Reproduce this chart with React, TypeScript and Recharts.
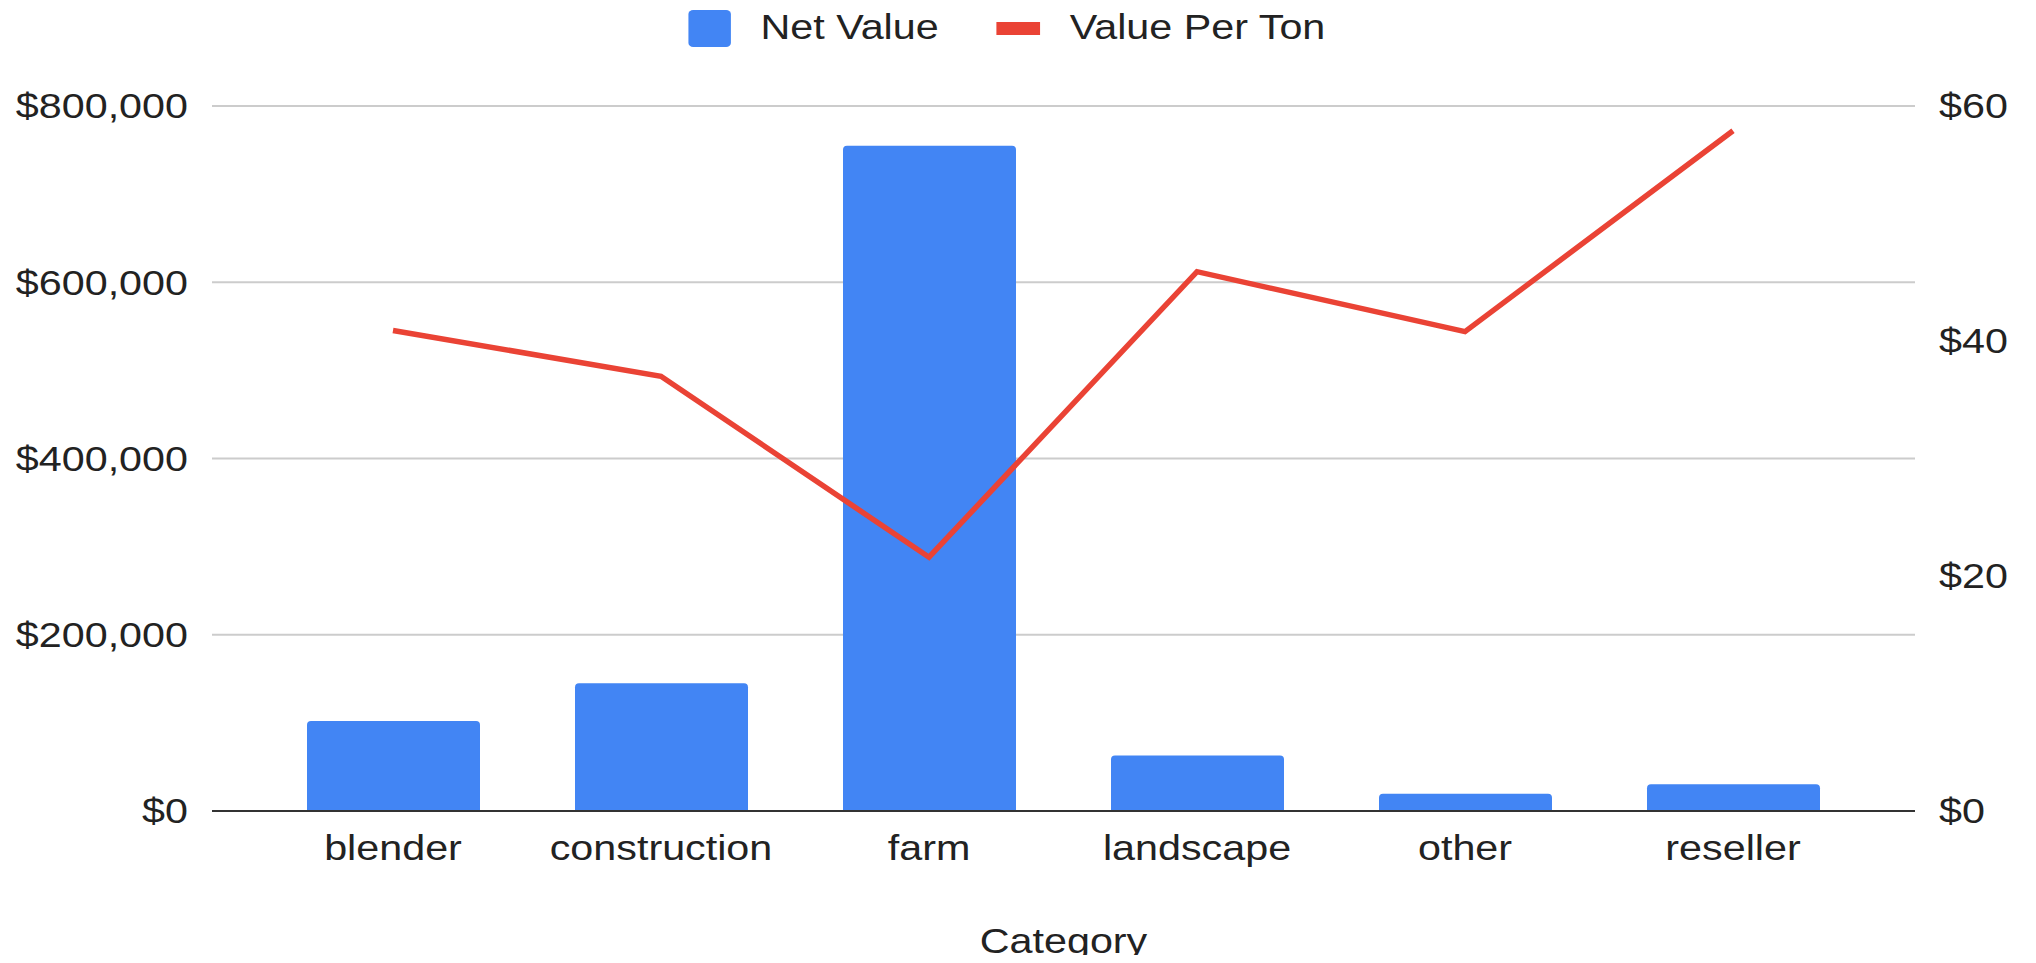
import React from "react";
import {
  ComposedChart,
  Bar,
  Line,
  XAxis,
  YAxis,
  CartesianGrid,
  Legend,
} from "recharts";

const categories: string[] = [
  "blender",
  "construction",
  "farm",
  "landscape",
  "other",
  "reseller",
];
const netValue: number[] = [102000, 145000, 755000, 63000, 19700, 30300];
const valuePerTon: number[] = [40.9, 37.0, 21.6, 45.9, 40.8, 57.9];

const leftTicks: number[] = [0, 200000, 400000, 600000, 800000];
const rightTicks: number[] = [0, 20, 40, 60];

const data = categories.map((category, i) => ({
  category,
  netValue: netValue[i],
  valuePerTon: valuePerTon[i],
}));

const FONT = "'Liberation Sans', Arial, sans-serif";
const TEXT = "#222222";
const BLUE = "#4285f4";
const RED = "#ea4335";
// the reference is stretched sideways, so text is widened to match
const STRETCH = 1.18;

const money = (v: number) => "$" + v.toLocaleString("en-US");

const StretchTick = (props: any) => {
  const { x, y, payload, anchor, dy, fmt } = props;
  return (
    <g transform={`translate(${x},${y}) scale(${STRETCH},1)`}>
      <text
        x={0}
        y={0}
        dy={dy}
        textAnchor={anchor}
        fill={TEXT}
        fontSize={35}
        fontFamily={FONT}
      >
        {fmt ? fmt(payload.value) : payload.value}
      </text>
    </g>
  );
};

const AxisTitle = (props: any) => {
  const { viewBox } = props;
  const cx = viewBox.x + viewBox.width / 2;
  return (
    <g transform={`translate(${cx},${viewBox.y + 142}) scale(${STRETCH},1)`}>
      <text x={0} y={0} textAnchor="middle" fill={TEXT} fontSize={35} fontFamily={FONT}>
        Category
      </text>
    </g>
  );
};

const LegendContent = (props: any) => {
  const { payload = [] } = props;
  return (
    <div
      style={{
        display: "flex",
        justifyContent: "center",
        paddingTop: 2,
        height: 41,
        boxSizing: "border-box",
        fontFamily: FONT,
        fontSize: 35,
        color: TEXT,
      }}
    >
      <div
        style={{
          display: "flex",
          alignItems: "center",
          height: 37,
          marginRight: 22,
          transform: `scaleX(${STRETCH})`,
        }}
      >
        {payload.map((entry: any, i: number) => (
          <React.Fragment key={entry.value}>
            {entry.type === "line" ? (
              <span
                style={{
                  display: "inline-block",
                  marginLeft: i === 0 ? 0 : 49,
                  width: 37,
                  height: 13,
                  background: entry.color,
                }}
              />
            ) : (
              <span
                style={{
                  display: "inline-block",
                  marginLeft: i === 0 ? 0 : 49,
                  width: 36,
                  height: 37,
                  borderRadius: 4,
                  background: entry.color,
                }}
              />
            )}
            <span
              style={{
                marginLeft: 25,
                lineHeight: "37px",
                position: "relative",
                top: -2,
                whiteSpace: "nowrap",
              }}
            >
              {entry.value}
            </span>
          </React.Fragment>
        ))}
      </div>
    </div>
  );
};

export default function App() {
  return (
    <div style={{ width: 2020, height: 947 }}>
      <style>{`.recharts-surface { overflow: visible; }`}</style>
      <ComposedChart
        width={2020}
        height={947}
        data={data}
        margin={{ top: 57, right: 0, left: 0, bottom: 0 }}
      >
        <Legend
          verticalAlign="top"
          content={<LegendContent />}
          wrapperStyle={{ top: 0 }}
        />
        <CartesianGrid
          yAxisId="left"
          vertical={false}
          stroke="#cccccc"
          strokeWidth={2}
        />
        <XAxis
          dataKey="category"
          height={144}
          padding={{ left: 47, right: 48 }}
          tickLine={false}
          tickSize={0}
          tickMargin={0}
          axisLine={{ stroke: "#333333", strokeWidth: 2 }}
          tick={<StretchTick anchor="middle" dy={49} />}
          label={<AxisTitle />}
        />
        <YAxis
          yAxisId="left"
          width={204}
          domain={[0, 800000]}
          ticks={leftTicks}
          axisLine={false}
          tickLine={false}
          tickSize={0}
          tickMargin={24}
          tick={<StretchTick anchor="end" dy="0.355em" fmt={money} />}
        />
        <YAxis
          yAxisId="right"
          orientation="right"
          width={113}
          domain={[0, 60]}
          ticks={rightTicks}
          axisLine={false}
          tickLine={false}
          tickSize={0}
          tickMargin={24}
          tick={<StretchTick anchor="start" dy="0.355em" fmt={money} />}
        />
        <Bar
          yAxisId="left"
          dataKey="netValue"
          name="Net Value"
          fill={BLUE}
          barSize={173}
          radius={[4, 4, 0, 0]}
          isAnimationActive={false}
        />
        <Line
          yAxisId="right"
          type="linear"
          dataKey="valuePerTon"
          name="Value Per Ton"
          stroke={RED}
          strokeWidth={5.5}
          dot={false}
          activeDot={false}
          isAnimationActive={false}
        />
      </ComposedChart>
    </div>
  );
}
